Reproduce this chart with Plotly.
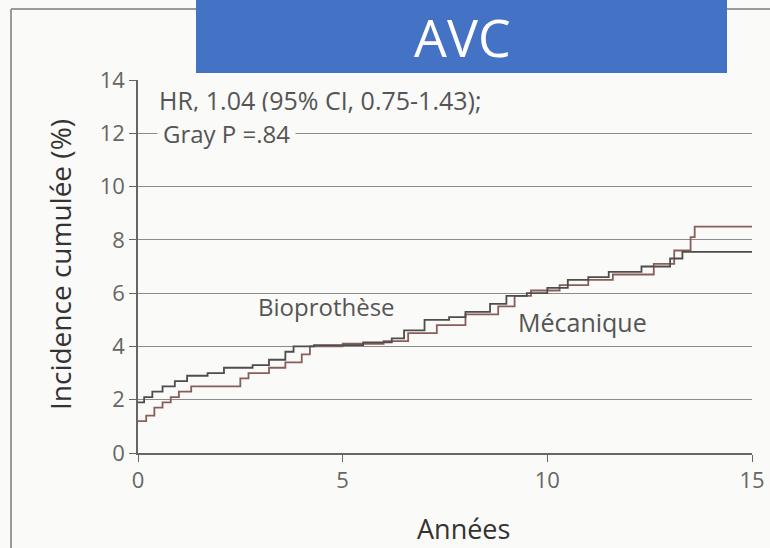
import plotly.graph_objects as go

# Step curves (cumulative incidence, %)
meca_x = [0, 0.15, 0.35, 0.6, 0.9, 1.2, 1.7, 2.1, 2.8, 3.2, 3.6, 3.8, 4.3, 5.5, 6.2, 6.5, 7.0, 7.6,
          8.0, 8.6, 9.0, 9.5, 10.0, 10.5, 11.0, 11.5, 12.3, 13.0, 13.3, 15.0]
meca_y = [1.9, 2.1, 2.3, 2.5, 2.7, 2.9, 3.0, 3.2, 3.3, 3.5, 3.8, 4.0, 4.05, 4.15, 4.3, 4.6, 5.0, 5.1,
          5.3, 5.6, 5.9, 6.0, 6.2, 6.5, 6.6, 6.8, 7.0, 7.3, 7.55, 7.55]

bio_x = [0, 0.2, 0.4, 0.6, 0.8, 1.0, 1.3, 2.5, 2.7, 3.2, 3.6, 4.0, 4.2, 5.0, 6.0, 6.6, 7.3, 8.0,
         8.8, 9.2, 9.6, 10.3, 11.0, 11.6, 12.6, 13.1, 13.5, 13.6, 15.0]
bio_y = [1.2, 1.4, 1.7, 1.9, 2.1, 2.3, 2.5, 2.8, 3.0, 3.2, 3.4, 3.7, 4.0, 4.1, 4.2, 4.5, 4.8, 5.2,
         5.5, 5.9, 6.1, 6.3, 6.5, 6.7, 7.1, 7.6, 8.1, 8.5, 8.5]

x_ticks = [0, 5, 10, 15]
y_ticks = [0, 2, 4, 6, 8, 10, 12, 14]

FONT = "Open Sans"
BG = "#fafaf8"

fig = go.Figure()
fig.add_trace(go.Scatter(x=bio_x, y=bio_y, mode="lines", line=dict(shape="hv", color="#8a5d58", width=1.8),
                         name="Bioprothèse", showlegend=False))
fig.add_trace(go.Scatter(x=meca_x, y=meca_y, mode="lines", line=dict(shape="hv", color="#4d4d4d", width=1.8),
                         name="Mécanique", showlegend=False))

L, R, T, B = 138, 18, 80, 95
W, H = 770, 548
pw, ph = W - L - R, H - T - B
def px(sx):  # screen x -> paper
    return (sx - L) / pw
def py(sy):  # screen y -> paper
    return (H - B - sy) / ph

fig.update_layout(
    width=W, height=H, autosize=False,
    margin=dict(l=L, r=R, t=T, b=B, autoexpand=False),
    paper_bgcolor=BG, plot_bgcolor=BG,
    font=dict(family=FONT, color="#555"),
    xaxis=dict(range=[0, 15], tickvals=x_ticks, ticks="outside", ticklen=7, tickcolor="#666",
               showline=True, linecolor="#666", linewidth=1.5, showgrid=False, zeroline=False,
               automargin=False, tickfont=dict(size=22, color="#666")),
    yaxis=dict(range=[0, 14], tickvals=y_ticks, ticks="outside", ticklen=7, tickcolor="#666",
               showline=True, linecolor="#666", linewidth=1.5, showgrid=True, gridcolor="#8c8c8c",
               gridwidth=1.3, zeroline=False, automargin=False, tickfont=dict(size=22, color="#666")),
    shapes=[
        dict(type="line", xref="paper", yref="paper", x0=px(11), x1=px(11), y0=py(560), y1=py(9),
             line=dict(color="#9a9a9a", width=2)),
        dict(type="line", xref="paper", yref="paper", x0=px(11), x1=px(780), y0=py(9), y1=py(9),
             line=dict(color="#9a9a9a", width=2)),
        dict(type="rect", xref="paper", yref="paper", x0=px(196), x1=px(727), y0=py(73), y1=py(0),
             fillcolor="#4472c4", line=dict(width=0), layer="above"),
    ],
    annotations=[
        dict(text="AVC", xref="paper", yref="paper", x=px(462), y=py(0), showarrow=False,
             font=dict(size=52, color="white", family=FONT), xanchor="center", yanchor="top",
             borderpad=0),
        dict(text="HR, 1.04 (95% CI, 0.75-1.43);", xref="paper", yref="paper", x=px(157), y=py(100),
             showarrow=False, xanchor="left", yanchor="middle", font=dict(size=25, color="#555")),
        dict(text="Gray P =.84", xref="paper", yref="y", x=px(157), y=12.0, showarrow=False,
             xanchor="left", yanchor="middle", font=dict(size=24, color="#555"),
             bgcolor=BG, borderpad=5),
        dict(text="Bioprothèse", xref="x", yref="y", x=4.6, y=5.5, showarrow=False,
             xanchor="center", yanchor="middle", font=dict(size=24, color="#555")),
        dict(text="Mécanique", xref="x", yref="y", x=10.85, y=4.9, showarrow=False,
             xanchor="center", yanchor="middle", font=dict(size=25, color="#555")),
        dict(text="Incidence cumulée (%)", xref="paper", yref="paper", x=px(60), y=py(265),
             textangle=-90, showarrow=False, xanchor="center", yanchor="middle",
             font=dict(size=28, color="#333")),
        dict(text="Années", xref="paper", yref="paper", x=px(463), y=py(528), showarrow=False,
             xanchor="center", yanchor="middle", font=dict(size=27, color="#333")),
    ],
)

fig.write_html(
    "out.html",
    config={"displayModeBar": False, "responsive": False},
    post_script="document.documentElement.style.margin='0';document.body.style.margin='0';"
                "document.body.style.overflow='hidden';",
)
